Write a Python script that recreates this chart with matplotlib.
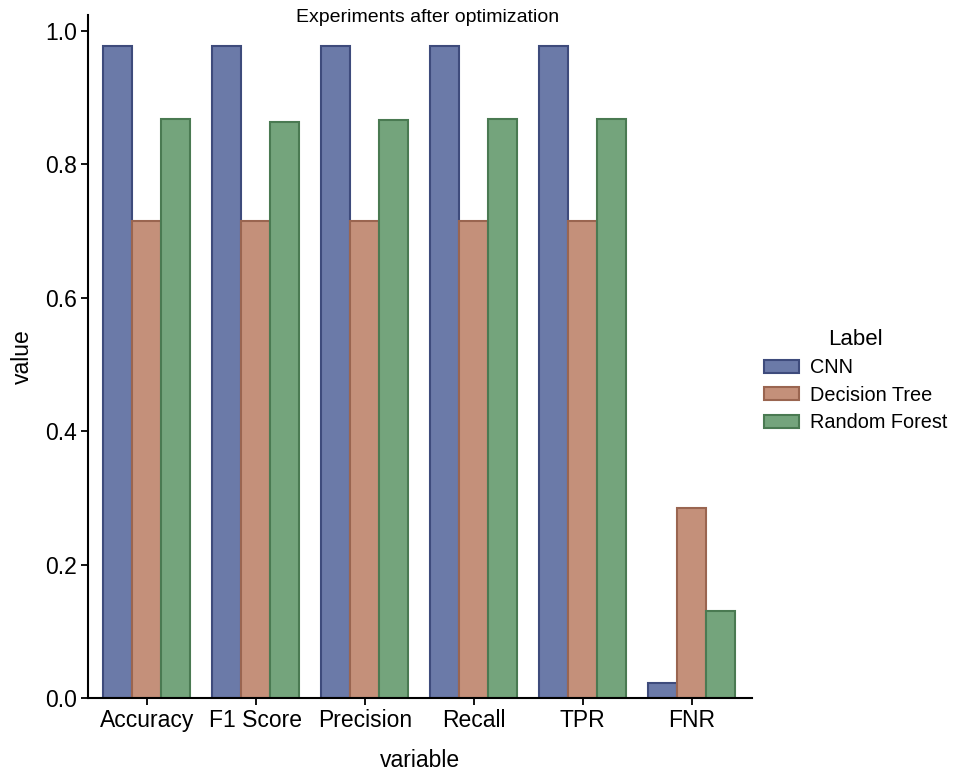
import matplotlib
matplotlib.use("Agg")
import matplotlib.pyplot as plt
import numpy as np

plt.rcParams["font.family"] = ["Liberation Sans", "DejaVu Sans"]

metrics = ["Accuracy", "F1 Score", "Precision", "Recall", "TPR", "FNR"]
models = ["CNN", "Decision Tree", "Random Forest"]
cnn = [0.977, 0.977, 0.977, 0.977, 0.977, 0.022]
decision_tree = [0.715, 0.715, 0.715, 0.715, 0.715, 0.285]
random_forest = [0.868, 0.864, 0.866, 0.868, 0.868, 0.131]
series = [cnn, decision_tree, random_forest]

face = ["#6b7aa8", "#c4907a", "#74a47c"]
edge = ["#3e4b7c", "#9a6550", "#4a7a52"]

fig = plt.figure(figsize=(9.65, 7.72), dpi=100)
ax = fig.add_axes([0.0912, 0.0959, 0.6878, 0.8847])

x = np.arange(len(metrics))
w = 0.8 / 3
for i, (vals, name) in enumerate(zip(series, models)):
    ax.bar(x + (i - 1) * w, vals, width=w, color=face[i], edgecolor=edge[i],
           linewidth=1.5, label=name)

ax.set_xlim(-0.54, 5.55)
ax.set_ylim(0, 1.024)
ax.set_yticks([0.0, 0.2, 0.4, 0.6, 0.8, 1.0])
ax.set_yticklabels(["0.0", "0.2", "0.4", "0.6", "0.8", "1.0"])
ax.set_xticks(x)
ax.set_xticklabels(metrics)
ax.tick_params(labelsize=16.5, length=5, width=1.3, color="black", pad=3)
for s in ["top", "right"]:
    ax.spines[s].set_visible(False)
for s in ["left", "bottom"]:
    ax.spines[s].set_linewidth(1.5)
ax.set_xlabel("variable", fontsize=16.5, labelpad=12)
ax.set_ylabel("value", fontsize=16.5, labelpad=8)

fig.text(428 / 965, 1 - 18 / 772, "Experiments after optimization",
         ha="center", va="center", fontsize=14)

leg = fig.legend(loc="center left", bbox_to_anchor=(0.773, 0.507), frameon=False,
                 title="Label", fontsize=14.3, title_fontsize=16,
                 handlelength=1.75, handleheight=0.65, labelspacing=0.42,
                 handletextpad=0.6)

fig.savefig("out.png", dpi=100)
